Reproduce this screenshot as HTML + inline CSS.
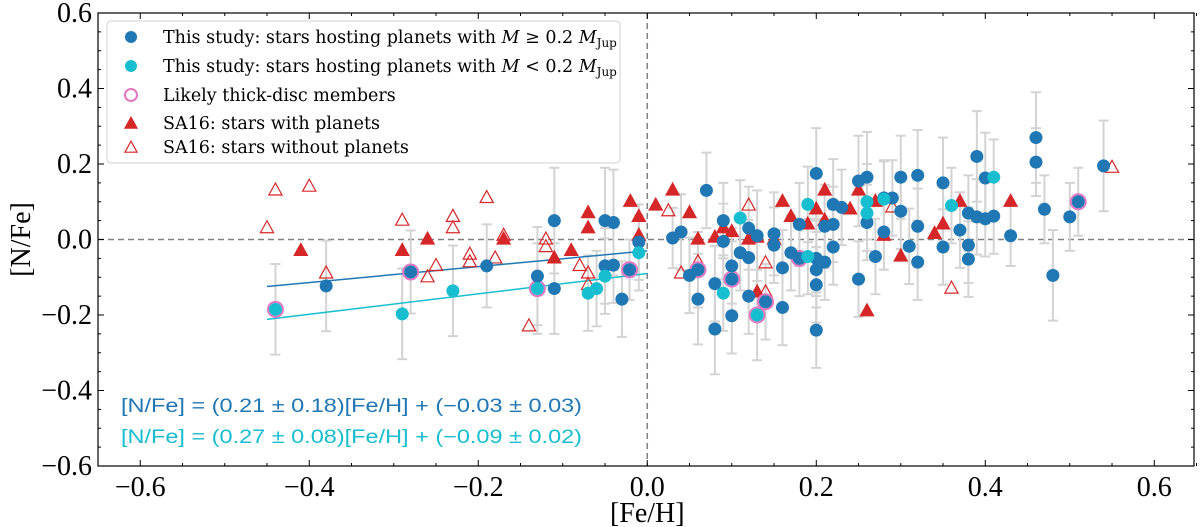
<!DOCTYPE html>
<html><head><meta charset="utf-8"><style>
body{margin:0;background:#fff;width:1200px;height:527px;overflow:hidden}
svg{display:block}
</style></head><body>
<svg id="chart" width="1200" height="527" xmlns="http://www.w3.org/2000/svg"></svg>
<script>
// Blue: stars with planets M >= 0.2 MJup
const blueFe=[-0.38,-0.28,-0.19,-0.13,-0.11,-0.11,-0.05,-0.04,-0.05,-0.04,-0.03,-0.021,-0.01,0.03,0.04,0.05,0.06,0.06,0.07,0.08,0.08,0.09,0.09,0.10,0.10,0.10,0.11,0.12,0.12,0.12,0.13,0.14,0.15,0.15,0.16,0.16,0.17,0.18,0.18,0.20,0.20,0.20,0.20,0.20,0.21,0.21,0.22,0.22,0.22,0.23,0.25,0.25,0.26,0.26,0.27,0.28,0.28,0.29,0.30,0.30,0.31,0.32,0.32,0.32,0.35,0.35,0.37,0.38,0.38,0.38,0.39,0.39,0.40,0.40,0.41,0.43,0.46,0.46,0.47,0.48,0.50,0.51,0.54];
const blueNFe=[-0.123,-0.086,-0.07,-0.097,0.05,-0.13,0.05,0.045,-0.07,-0.068,-0.158,-0.08,-0.007,0.004,0.02,-0.095,-0.158,-0.08,0.13,-0.237,-0.117,0.05,-0.005,-0.07,-0.105,-0.202,-0.035,0.03,-0.048,-0.15,0.01,-0.165,0.015,-0.015,-0.075,-0.18,-0.035,0.04,-0.05,0.175,-0.05,-0.08,-0.12,-0.24,0.035,-0.06,0.093,0.04,-0.02,0.085,0.155,-0.105,0.165,0.045,-0.045,0.11,0.02,0.11,0.165,0.075,-0.018,0.17,0.035,-0.06,0.15,-0.02,0.025,0.07,-0.015,-0.052,0.22,0.06,0.163,0.055,0.062,0.01,0.27,0.205,0.08,-0.095,0.06,0.10,0.195];
const blueErr=[0.12,0.11,0.11,0.13,0.14,0.12,0.14,0.14,0.1,0.1,0.1,0.08,0.1,0.08,0.1,0.1,0.12,0.1,0.1,0.12,0.1,0.1,0.1,0.1,0.1,0.1,0.1,0.11,0.1,0.1,0.12,0.1,0.11,0.1,0.1,0.1,0.1,0.11,0.1,0.12,0.1,0.1,0.1,0.1,0.11,0.1,0.12,0.1,0.1,0.1,0.12,0.1,0.12,0.1,0.1,0.1,0.1,0.1,0.11,0.1,0.1,0.12,0.1,0.1,0.12,0.1,0.1,0.1,0.1,0.1,0.12,0.1,0.12,0.1,0.1,0.08,0.12,0.09,0.09,0.12,0.09,0.09,0.12];
// Cyan: stars with planets M < 0.2 MJup
const cyanFe=[-0.44,-0.29,-0.23,-0.13,-0.07,-0.06,-0.05,-0.01,0.09,0.11,0.13,0.19,0.19,0.26,0.26,0.28,0.36,0.41];
const cyanNFe=[-0.185,-0.197,-0.136,-0.13,-0.142,-0.13,-0.097,-0.035,-0.142,0.057,-0.20,0.093,-0.045,0.10,0.07,0.107,0.09,0.165];
const cyanErr=[0.12,0.12,0.12,0.12,0.1,0.1,0.1,0.1,0.1,0.1,0.12,0.1,0.1,0.1,0.1,0.1,0.1,0.1];
// Thick-disc members
const thickFe=[-0.44,-0.28,-0.13,-0.021,0.06,0.10,0.13,0.14,0.18,0.51];
const thickNFe=[-0.185,-0.086,-0.13,-0.08,-0.08,-0.105,-0.20,-0.165,-0.05,0.10];
// SA16 with planets
const sawFe=[-0.41,-0.29,-0.26,-0.17,-0.11,-0.09,-0.07,-0.07,-0.02,-0.01,-0.01,0.01,0.03,0.05,0.06,0.08,0.09,0.10,0.12,0.13,0.13,0.15,0.16,0.17,0.19,0.20,0.21,0.21,0.24,0.25,0.26,0.27,0.28,0.30,0.34,0.35,0.37,0.43];
const sawNFe=[-0.03,-0.03,0.0,0.0,-0.05,-0.03,0.07,0.03,0.10,0.06,0.01,0.09,0.13,0.07,0.0,0.005,0.03,0.02,0.0,0.005,-0.14,0.0,0.10,0.06,0.04,0.08,0.13,0.05,0.08,0.13,-0.19,0.10,0.01,-0.045,0.015,0.04,0.10,0.10];
// SA16 without planets
const sanFe=[-0.45,-0.44,-0.40,-0.38,-0.29,-0.26,-0.25,-0.23,-0.23,-0.21,-0.21,-0.19,-0.18,-0.17,-0.14,-0.12,-0.12,-0.08,-0.07,-0.07,0.025,0.04,0.06,0.12,0.14,0.14,0.29,0.36,0.55];
const sanNFe=[0.03,0.13,0.14,-0.09,0.05,-0.10,-0.07,0.06,0.03,-0.04,-0.06,0.11,-0.05,0.01,-0.23,0.0,-0.02,-0.07,-0.09,-0.12,0.075,-0.09,-0.06,0.09,-0.063,-0.14,0.085,-0.13,0.19];
// fits
const fitSlope=[0.21,0.27];
const fitIntercept=[-0.03,-0.09];
const xTicks=[-0.6,-0.4,-0.2,0.0,0.2,0.4,0.6];
const yTicks=[-0.6,-0.4,-0.2,0.0,0.2,0.4,0.6];

const L=98,R=1194,T=13,B=466, XMIN=-0.65,XMAX=0.647,YMIN=-0.6,YMAX=0.6;
const X=v=>L+(v-XMIN)/(XMAX-XMIN)*(R-L);
const Y=v=>B-(v-YMIN)/(YMAX-YMIN)*(B-T);
const svg=document.getElementById('chart');
const NS='http://www.w3.org/2000/svg';
function mk(tag,at,parent){const e=document.createElementNS(NS,tag);for(const k in at)e.setAttribute(k,at[k]);(parent||svg).appendChild(e);return e;}
const fmt=v=>(v<0?'\u2212':'')+Math.abs(v).toFixed(1);

let e=mk('line',{x1:L,x2:R,y1:Y(0),y2:Y(0),stroke:'#808080','stroke-width':1.5,'stroke-dasharray':'6,4'});


e=mk('line',{x1:X(0),x2:X(0),y1:T,y2:B,stroke:'#808080','stroke-width':1.5,'stroke-dasharray':'6,4'});



function errbars(fe,nf,er,name){for(let i=0;i<fe.length;i++){const g=mk('g',{stroke:'#d3d3d3','stroke-width':2});


const x=X(fe[i]),y1=Y(nf[i]-er[i]),y2=Y(nf[i]+er[i]);
mk('line',{x1:x,x2:x,y1:y1,y2:y2},g);mk('line',{x1:x-5,x2:x+5,y1:y1,y2:y1},g);mk('line',{x1:x-5,x2:x+5,y1:y2,y2:y2},g);}}
errbars(blueFe,blueNFe,blueErr,'blue-error-bar');
errbars(cyanFe,cyanNFe,cyanErr,'cyan-error-bar');

const fitCol=['#1f77b4','#17becf'];
for(let k=0;k<2;k++){const x0=-0.45,x1=0;
e=mk('line',{x1:X(x0),x2:X(x1),y1:Y(fitSlope[k]*x0+fitIntercept[k]),y2:Y(fitSlope[k]*x1+fitIntercept[k]),stroke:fitCol[k],'stroke-width':1.5});

}

function tri(x,y,s,fill,stroke,parent){return mk('polygon',{points:`${x},${y-s*0.62} ${x-s*0.55},${y+s*0.38} ${x+s*0.55},${y+s*0.38}`,fill:fill,stroke:stroke,'stroke-width':1.2},parent);}
for(let i=0;i<sanFe.length;i++){e=tri(X(sanFe[i]),Y(sanNFe[i]),12,'none','#d62728');

}
for(let i=0;i<sawFe.length;i++){e=tri(X(sawFe[i]),Y(sawNFe[i]),12,'#d62728','#d62728');

}
for(let i=0;i<thickFe.length;i++){e=mk('circle',{cx:X(thickFe[i]),cy:Y(thickNFe[i]),r:7.5,fill:'none',stroke:'#e377c2','stroke-width':2});

}
for(let i=0;i<blueFe.length;i++){e=mk('circle',{cx:X(blueFe[i]),cy:Y(blueNFe[i]),r:6.5,fill:'#1f77b4'});

}
for(let i=0;i<cyanFe.length;i++){e=mk('circle',{cx:X(cyanFe[i]),cy:Y(cyanNFe[i]),r:6.5,fill:'#17becf'});

}

e=mk('rect',{x:L,y:T,width:R-L,height:B-T,fill:'none',stroke:'#000','stroke-width':1.2});


const tg=mk('g',{stroke:'#000','stroke-width':1});


for(let v=-0.65;v<=0.651;v+=0.05){const x=X(v);const maj=Math.abs(Math.round(v*10)/10-v)<1e-6&&Math.round(v*10)%2==0;const l=maj?6:3;
mk('line',{x1:x,x2:x,y1:B,y2:B-l},tg);mk('line',{x1:x,x2:x,y1:T,y2:T+l},tg);}
for(let v=-0.6;v<=0.601;v+=0.05){const y=Y(v);const maj=Math.abs(Math.round(v*10)/10-v)<1e-6&&Math.round(v*10)%2==0;const l=maj?6:3;
mk('line',{x1:L,x2:L+l,y1:y,y2:y},tg);mk('line',{x1:R,x2:R-l,y1:y,y2:y},tg);}
const font='"Liberation Serif","DejaVu Serif",serif';
xTicks.forEach(v=>{e=mk('text',{x:X(v),y:B+30,'text-anchor':'middle','font-family':font,'font-size':28,fill:'#000'});e.textContent=fmt(v);

});
yTicks.forEach(v=>{e=mk('text',{x:L-6,y:Y(v)+9,'text-anchor':'end','font-family':font,'font-size':28,fill:'#000'});e.textContent=fmt(v);

});
e=mk('text',{x:X(0),y:522,'text-anchor':'middle','font-family':font,'font-size':28,fill:'#000'});e.textContent='[Fe/H]';


e=mk('text',{x:0,y:0,'text-anchor':'middle','font-family':font,'font-size':28,fill:'#000',transform:`translate(30,${Y(0)}) rotate(-90)`});e.textContent='[N/Fe]';



const sf='"Liberation Sans","DejaVu Sans",sans-serif';
e=mk('text',{x:121,y:412,'font-family':sf,'font-size':19,fill:'#1f77b4',textLength:461,lengthAdjust:'spacingAndGlyphs'});e.textContent='[N/Fe] = (0.21 \u00b1 0.18)[Fe/H] + (\u22120.03 \u00b1 0.03)';


e=mk('text',{x:121,y:443,'font-family':sf,'font-size':19,fill:'#17becf',textLength:461,lengthAdjust:'spacingAndGlyphs'});e.textContent='[N/Fe] = (0.27 \u00b1 0.08)[Fe/H] + (\u22120.09 \u00b1 0.02)';



const lg=mk('g',{});


mk('rect',{x:107,y:21,width:513,height:142,rx:4,fill:'#fff','fill-opacity':0.9,stroke:'#d0d0d0','stroke-width':1},lg);
const lf='"DejaVu Serif","Liberation Serif",serif';
const ly=[37,66,95,123,147];
const labels=['This study: stars hosting planets with <tspan font-style="italic">M</tspan> \u2265  0.2 <tspan font-style="italic">M</tspan><tspan font-size="12" dy="4">Jup</tspan>',
'This study: stars hosting planets with <tspan font-style="italic">M</tspan> &lt; 0.2 <tspan font-style="italic">M</tspan><tspan font-size="12" dy="4">Jup</tspan>',
'Likely thick-disc members','SA16: stars with planets','SA16: stars without planets'];
for(let i=0;i<5;i++){const g=mk('g',{},lg);


const cx=131,cy=ly[i];
if(i==0)mk('circle',{cx,cy,r:6,fill:'#1f77b4'},g);
if(i==1)mk('circle',{cx,cy,r:6,fill:'#17becf'},g);
if(i==2)mk('circle',{cx,cy,r:6,fill:'none',stroke:'#e377c2','stroke-width':2},g);
if(i==3)tri(cx,cy+1,11,'#d62728','#d62728',g);
if(i==4)tri(cx,cy+1,11,'none','#d62728',g);
const t=mk('text',{x:163,y:cy+6,'font-family':lf,'font-size':17.5,fill:'#000'},g);t.innerHTML=labels[i];}
</script>
</body></html>
